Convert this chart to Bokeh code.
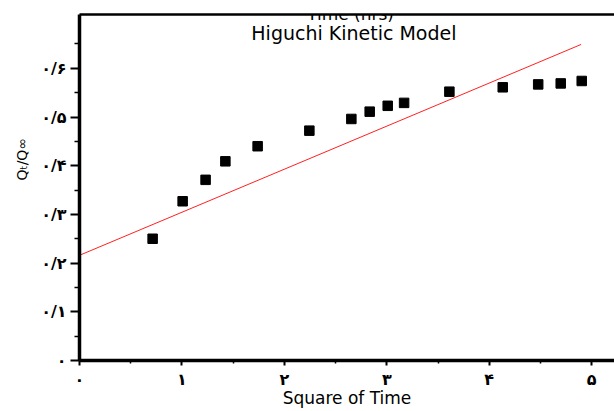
import math
from bokeh.plotting import figure
from bokeh.models import FixedTicker, Label, Range1d, LinearAxis, Title
from bokeh.embed import file_html
from bokeh.resources import INLINE

# ---- data ----
sqrt_time = [0.714, 1.007, 1.231, 1.424, 1.739, 2.244, 2.654, 2.833, 3.009, 3.169,
             3.611, 4.132, 4.478, 4.698, 4.903]
release = [0.250, 0.327, 0.371, 0.409, 0.440, 0.472, 0.496, 0.511, 0.523, 0.529,
           0.552, 0.561, 0.567, 0.569, 0.574]
fit_x = [0.0, 4.897]
fit_y = [0.216, 0.649]

x_ticks = [0, 1, 2, 3, 4, 5]
x_tick_labels = ["۰", "۱", "۲", "۳", "۴", "۵"]
x_minor = [0.5, 1.5, 2.5, 3.5, 4.5]
y_ticks = [0, 0.1, 0.2, 0.3, 0.4, 0.5, 0.6]
y_tick_labels = ["۰", "۰/۱", "۰/۲", "۰/۳", "۰/۴", "۰/۵", "۰/۶"]
y_minor = [0.05, 0.15, 0.25, 0.35, 0.45, 0.55, 0.65]

X0, X1 = 0.0, 5.223
Y0, Y1 = 0.0, 0.7105

font = "DejaVu Sans"

p = figure(width=614, height=411, x_range=Range1d(X0, X1), y_range=Range1d(Y0, Y1),
           output_backend="svg", toolbar_location=None,
           min_border_left=79, min_border_right=0, min_border_top=14, min_border_bottom=51)
p.outline_line_color = None
p.xgrid.grid_line_color = None
p.ygrid.grid_line_color = None
p.background_fill_color = "white"
p.border_fill_color = "white"

# fit line and data
p.line(fit_x, fit_y, line_color="#ff2020", line_width=1)
p.scatter(sqrt_time, release, marker="square", size=9.5, fill_color="black", line_color="black")

for ax in (p.xaxis[0], p.yaxis[0]):
    ax.axis_line_width = 3.5
    ax.axis_line_color = "black"
    ax.major_tick_in = 0
    ax.minor_tick_in = 0
    ax.major_tick_line_width = 2
    ax.minor_tick_line_width = 1.5
    ax.major_tick_line_color = "black"
    ax.minor_tick_line_color = "black"
    ax.major_label_text_font = font
    ax.major_label_text_font_size = "16px"
    ax.major_label_text_font_style = "bold"
    ax.major_label_text_color = "black"

p.xaxis.ticker = FixedTicker(ticks=x_ticks, minor_ticks=x_minor)
p.xaxis.major_label_overrides = {t: l for t, l in zip(x_ticks, x_tick_labels)}
p.xaxis.major_tick_out = 5
p.xaxis.minor_tick_out = 3
p.xaxis.major_label_standoff = 4
p.xaxis.axis_label = "Square of Time"
p.xaxis.axis_label_text_font = font
p.xaxis.axis_label_text_font_size = "17px"
p.xaxis.axis_label_text_font_style = "normal"
p.xaxis.axis_label_text_color = "black"
p.xaxis.axis_label_standoff = -4

p.yaxis.ticker = FixedTicker(ticks=y_ticks, minor_ticks=y_minor)
p.yaxis.major_label_overrides = {t: l for t, l in zip(y_ticks, y_tick_labels)}
p.yaxis.major_tick_out = 9
p.yaxis.minor_tick_out = 5
p.yaxis.major_label_standoff = 4

# y-axis title, placed in the left panel
p.add_layout(Title(text="Qₜ/Q∞", text_font=font, text_font_size="14px",
                   text_font_style="normal", text_color="black",
                   align="left", offset=180, standoff=18), "left")

# top frame line as a bare axis
top = LinearAxis(ticker=FixedTicker(ticks=[]), axis_line_width=2.5, axis_line_color="black",
                 major_tick_out=0, major_tick_in=0, minor_tick_out=0, minor_tick_in=0,
                 major_label_standoff=0, major_label_text_font_size="0px")
p.add_layout(top, "above")

p.add_layout(Label(x=2.679, y=0.6735, text="Higuchi Kinetic Model", text_font=font,
                   text_font_size="19px", text_align="center", text_baseline="alphabetic",
                   text_color="black", level="overlay"))
p.add_layout(Label(x=271, y=347, x_units="screen", y_units="screen", text="Time (hrs)",
                   text_font=font, text_font_size="17px", text_align="center",
                   text_baseline="alphabetic", text_color="black", level="overlay"))

open("out.html", "w").write(file_html(p, INLINE))
